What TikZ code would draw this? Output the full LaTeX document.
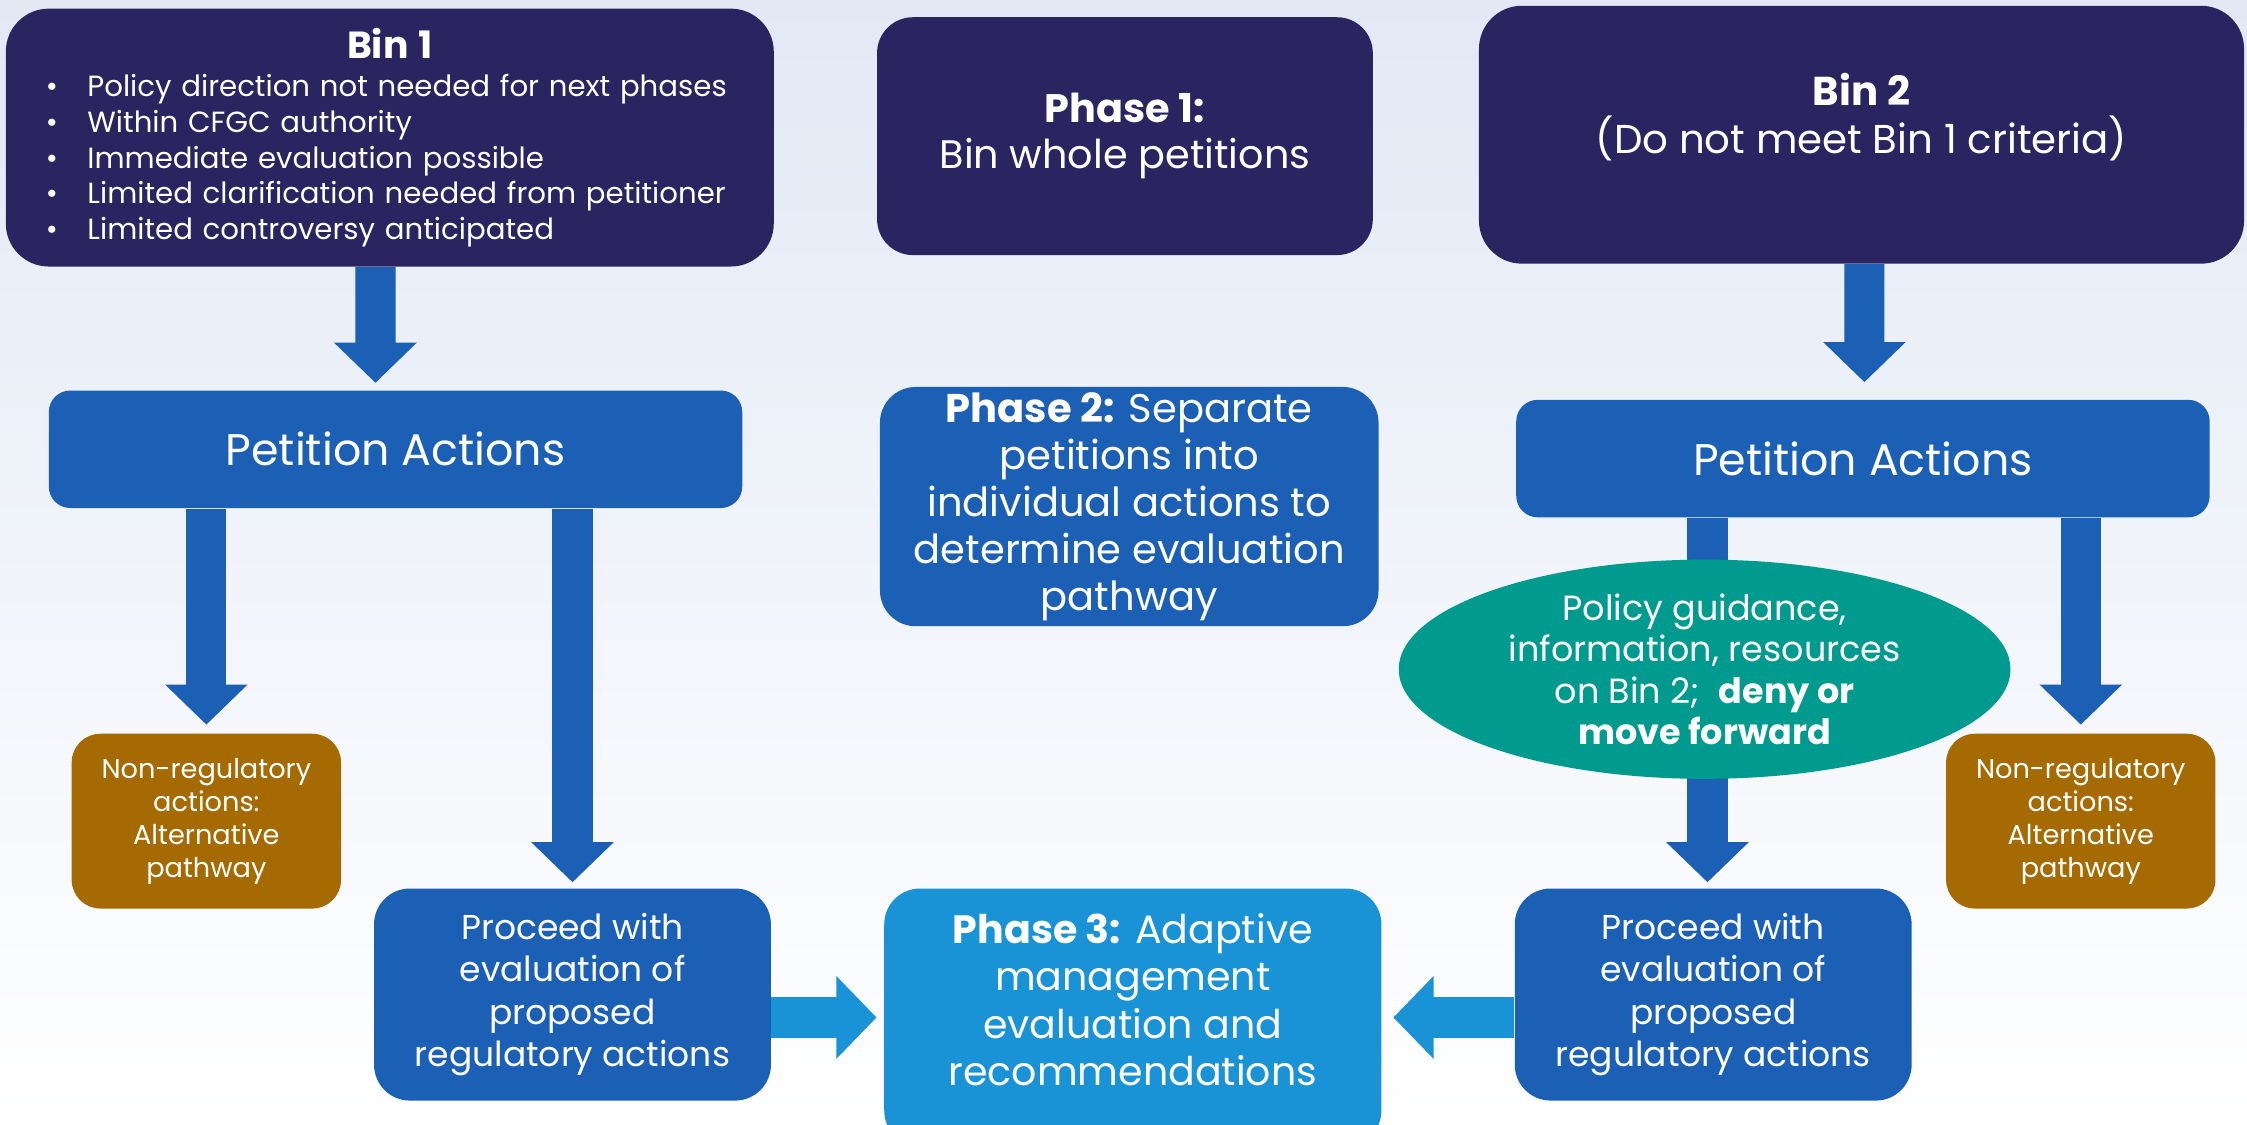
\documentclass[tikz,border=0pt]{standalone}
\usepackage{fontspec}
\setmainfont{Poppins}
\usepackage{tikz}
\usetikzlibrary{calc,positioning,shapes.geometric,arrows.meta}

\definecolor{binnavy}{HTML}{2A2560}
\definecolor{actblue}{HTML}{1C60B6}
\definecolor{phaseblue}{HTML}{1A93D6}
\definecolor{guideteal}{HTML}{009B8E}
\definecolor{altbrown}{HTML}{A56A02}
\definecolor{bgtop}{HTML}{E2E9F5}
\definecolor{bgmid}{HTML}{F2F5FB}

\newcommand{\binitem}[1]{\makebox[0.58cm][l]{•}#1}
\newcommand{\lifttext}[1]{\rule[-#1]{0pt}{#1}}

\tikzset{
	binbox/.style={fill=binnavy, text=white, rounded corners=0.6cm, inner sep=0pt},
	phasebox/.style={fill=#1, text=white, rounded corners=0.5cm, inner sep=0pt, align=center},
	actionbox/.style={fill=actblue, text=white, rounded corners=0.3cm, inner sep=0pt,
		minimum width=9.68cm, minimum height=1.64cm, font=\fontsize{17.6}{21}\selectfont},
	altbox/.style={fill=altbrown, text=white, rounded corners=0.4cm, inner sep=0pt, align=center,
		minimum width=3.76cm, minimum height=2.44cm, font=\fontsize{10.8}{13.1}\selectfont},
	proceedbox/.style={fill=actblue, text=white, rounded corners=0.5cm, inner sep=0pt, align=center,
		minimum width=5.54cm, minimum height=2.96cm, font=\fontsize{13.7}{16.9}\selectfont},
	guide/.style={ellipse, fill=guideteal, text=white, inner sep=0pt, align=center,
		minimum width=8.54cm, minimum height=3.06cm, font=\fontsize{13.9}{16.5}\selectfont},
	blockarrow/.style={draw=actblue, line width=0.56cm, -{Triangle[width=1.12cm,length=0.56cm]}},
	sidearrow/.style={blockarrow, draw=phaseblue},
}

\begin{document}
\begin{tikzpicture}[x=0.02cm, y=-0.02cm]
			%%%%% START %%%%%
			
			\useasboundingbox (0, 0) rectangle (1568, 785);
			\shade[top color=bgtop, middle color=bgmid, bottom color=white] (0, 0) rectangle (1568, 785);
			
			\node[binbox, minimum width=10.72cm, minimum height=3.6cm, align=left, text width=9.6cm,
				font=\fontsize{11.6}{14.2}\selectfont] (bin1) at (272, 96)
				{\makebox[9.6cm][c]{\fontsize{15}{16}\selectfont\bfseries Bin 1}\\[1pt]
				\binitem{Policy direction not needed for next phases}\\
				\binitem{Within CFGC authority}\\
				\binitem{Immediate evaluation possible}\\
				\binitem{Limited clarification needed from petitioner}\\
				\binitem{Limited controversy anticipated}};
			
			\node[phasebox=binnavy, minimum width=6.92cm, minimum height=3.32cm,
				font=\fontsize{15.8}{18.4}\selectfont] (p1) at (785, 95)
				{\textbf{Phase 1:}\\Bin whole petitions\lifttext{0.15cm}};
			
			\node[binbox, minimum width=10.68cm, minimum height=3.6cm, align=center,
				font=\fontsize{16}{18.8}\selectfont] (bin2) at (1299, 94)
				{\textbf{Bin 2}\\(Do not meet Bin 1 criteria)\lifttext{0.6cm}};
			
			\node[actionbox] (pa1) at (276, 313.5) {Petition Actions};
			\node[actionbox] (pa2) at (1300, 320) {Petition Actions};
			
			\node[phasebox=actblue, minimum width=6.96cm, minimum height=3.34cm,
				font=\fontsize{15.9}{18.7}\selectfont] (p2) at (788, 353.5)
				{\textbf{Phase 2:} Separate\\petitions into\\individual actions to\\determine evaluation\\pathway};
			
			\node[altbox] (nr1) at (144, 573) {Non-regulatory\\actions:\\Alternative\\pathway};
			\node[altbox] (nr2) at (1452, 573) {Non-regulatory\\actions:\\Alternative\\pathway};
			
			\node[proceedbox] (pr1) at (399.5, 694) {Proceed with\\evaluation of\\proposed\\regulatory actions};
			\node[proceedbox] (pr2) at (1195.5, 694) {Proceed with\\evaluation of\\proposed\\regulatory actions};
			
			\node[phasebox=phaseblue, minimum width=6.94cm, minimum height=3.6cm,
				font=\fontsize{15.7}{18.9}\selectfont] (p3) at (790.5, 710)
				{\textbf{Phase 3:} Adaptive\\management\\evaluation and\\recommendations\lifttext{0.5cm}};
			
			\draw[blockarrow] ([xshift=-0.2cm]bin1.south) -- ([xshift=-0.28cm, yshift=0.1cm]pa1.north);
			\draw[blockarrow] ([xshift=0.04cm]bin2.south) -- ([xshift=0.02cm, yshift=0.24cm]pa2.north);
			
			\draw[blockarrow] (pa1.south -| nr1.north) -- ([yshift=0.12cm]nr1.north);
			\draw[blockarrow] (pa1.south -| pr1.north) -- ([yshift=0.08cm]pr1.north);
			\draw[blockarrow] ([xshift=-0.08cm]pa2.south -| pr2.north) -- ([xshift=-0.08cm, yshift=0.08cm]pr2.north);
			\draw[blockarrow] (pa2.south -| nr2.north) -- ([yshift=0.12cm]nr2.north);
			
			\draw[sidearrow] (pr1.east |- p3.west) -- ([xshift=-0.1cm]p3.west);
			\draw[sidearrow] (pr2.west |- p3.east) -- ([xshift=0.16cm]p3.east);
			
			\node[guide] (gd) at (1189.5, 467)
				{Policy guidance,\\information, resources\\on Bin 2;~ \textbf{deny or}\\\textbf{move forward}};
			
			%%%%% END %%%%%
\end{tikzpicture}
\end{document}
